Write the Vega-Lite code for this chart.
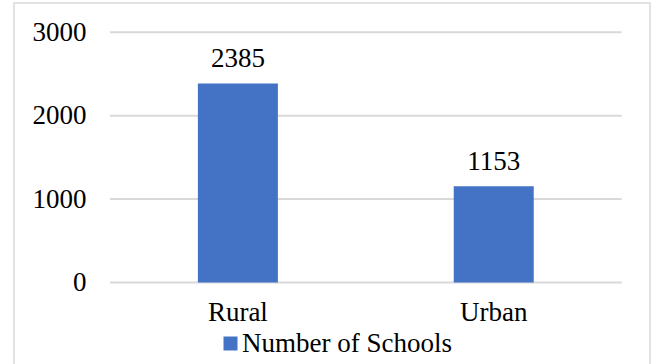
{
  "$schema": "https://vega.github.io/schema/vega-lite/v6.json",
  "autosize": {"type": "none"},
  "padding": {"left": 14, "top": 3, "right": 4, "bottom": 0},
  "width": 636,
  "height": 370,
  "background": "white",
  "config": {
    "view": {"stroke": "#d9d9d9", "strokeWidth": 1.5},
    "font": "Liberation Serif"
  },
  "datasets": {
    "schools": [
      {"area": "Rural", "schools": 2385, "series": "Number of Schools"},
      {"area": "Urban", "schools": 1153, "series": "Number of Schools"}
    ],
    "grid": [
      {"level": 0, "from": "Rural", "to": "Urban"},
      {"level": 1000, "from": "Rural", "to": "Urban"},
      {"level": 2000, "from": "Rural", "to": "Urban"},
      {"level": 3000, "from": "Rural", "to": "Urban"}
    ]
  },
  "layer": [
    {
      "data": {"name": "grid"},
      "mark": {"type": "rule", "color": "#d9d9d9", "strokeWidth": 2},
      "encoding": {
        "x": {"field": "from", "type": "nominal", "bandPosition": 0},
        "x2": {"field": "to", "bandPosition": 1},
        "y": {"field": "level", "type": "quantitative"}
      }
    },
    {
      "data": {"name": "schools"},
      "mark": {"type": "bar", "width": {"band": 0.3127}},
      "encoding": {
        "x": {
          "field": "area",
          "type": "nominal",
          "sort": ["Rural", "Urban"],
          "scale": {"domain": ["Rural", "Urban"], "paddingInner": 0, "paddingOuter": 0.2429, "align": 0.772},
          "axis": {
            "title": null,
            "orient": "bottom",
            "offset": -90.5,
            "bandPosition": 0.5,
            "domain": false,
            "ticks": false,
            "labelAngle": 0,
            "labelAlign": "center",
            "labelFont": "Liberation Serif",
            "labelFontSize": 27,
            "labelColor": "#000000",
            "labelPadding": 30
          }
        },
        "y": {
          "field": "schools",
          "type": "quantitative",
          "scale": {"domain": [-1085, 3351], "nice": false, "zero": false},
          "axis": {
            "title": null,
            "orient": "left",
            "offset": -96,
            "values": [0, 1000, 2000, 3000],
            "format": "d",
            "grid": false,
            "domain": false,
            "ticks": false,
            "labelFont": "Liberation Serif",
            "labelFontSize": 27,
            "labelColor": "#000000",
            "labelPadding": 24
          }
        },
        "color": {
          "field": "series",
          "type": "nominal",
          "scale": {"range": ["#4472C4"]},
          "legend": {
            "title": null,
            "orient": "none",
            "legendX": 203,
            "legendY": 327,
            "symbolType": "square",
            "symbolSize": 196,
            "symbolStrokeWidth": 0,
            "labelFont": "Liberation Serif",
            "labelFontSize": 27,
            "labelColor": "#000000",
            "labelOffset": -2,
            "labelLimit": 0
          }
        }
      }
    },
    {
      "data": {"name": "schools"},
      "mark": {"type": "text", "baseline": "alphabetic", "dy": -16.6, "fontSize": 27, "font": "Liberation Serif", "color": "#000000"},
      "encoding": {
        "x": {"field": "area", "type": "nominal"},
        "y": {"field": "schools", "type": "quantitative"},
        "text": {"field": "schools", "type": "quantitative", "format": "d"}
      }
    }
  ]
}
